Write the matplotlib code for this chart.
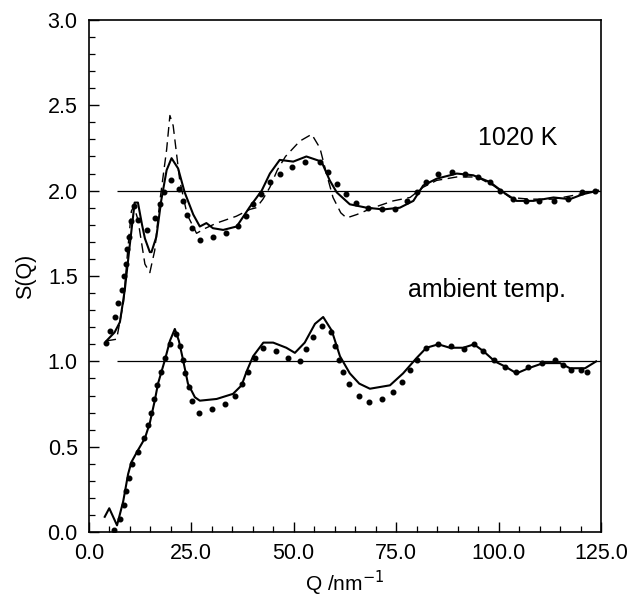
import numpy as np
import matplotlib
matplotlib.use("Agg")
import matplotlib.pyplot as plt
from matplotlib.ticker import MultipleLocator, FormatStrFormatter

plt.rcParams['font.family'] = ['Liberation Sans', 'DejaVu Sans']

# 1020 K data
q_hot_solid = [4.3, 6.3, 7.6, 8.8, 10.0, 11.2, 12.0, 13.0, 13.7, 14.9, 15.3, 16.5, 17.7, 19.0, 20.2,
               21.8, 23.4, 25.5, 27.1, 28.7, 30.3, 32.8, 36.1, 39.3, 42.2, 44.2, 46.6, 49.9, 53.1,
               56.8, 58.8, 60.5, 63.7, 67.8, 71.9, 75.9, 79.2, 81.6, 84.9, 89.8, 93.8, 97.9, 101.2,
               104.4, 108.5, 113.4, 117.4, 120.7, 124.3]
s_hot_solid = [1.12, 1.17, 1.23, 1.42, 1.68, 1.93, 1.93, 1.80, 1.72, 1.64, 1.64, 1.73, 1.945, 2.12, 2.19,
               2.13, 1.99, 1.86, 1.79, 1.81, 1.78, 1.77, 1.79, 1.905, 2.0, 2.10, 2.18, 2.17, 2.20,
               2.17, 2.06, 1.99, 1.92, 1.90, 1.89, 1.90, 1.94, 2.03, 2.07, 2.10, 2.09, 2.05, 1.99,
               1.94, 1.94, 1.96, 1.95, 1.98, 2.0]

q_hot_dash = [4.3, 6.8, 8.5, 9.5, 10.4, 11.0, 12.0, 13.7, 14.9, 16.1, 17.3, 19.0, 19.8, 20.6, 22.2,
              24.0, 26.3, 28.5, 31.2, 36.0, 39.3, 40.9, 42.5, 44.2, 46.0, 48.0, 51.5, 54.4, 56.4,
              58.0, 59.6, 61.5, 62.9, 65.4, 69.4, 74.3, 78.4, 81.6, 84.9, 89.8, 94.7, 98.7, 102.8,
              107.7, 113.4, 120.0, 124.3]
s_hot_dash = [1.12, 1.13, 1.35, 1.65, 1.88, 1.91, 1.83, 1.57, 1.52, 1.65, 1.93, 2.24, 2.44, 2.38, 2.06,
              1.86, 1.75, 1.78, 1.81, 1.85, 1.89, 1.90, 1.95, 2.02, 2.12, 2.20, 2.29, 2.33, 2.25,
              2.10, 1.96, 1.87, 1.84, 1.86, 1.90, 1.94, 1.96, 2.02, 2.06, 2.08, 2.08, 2.03, 1.96,
              1.95, 1.95, 1.98, 2.0]

q_hot_dots = [4.3, 5.1, 6.3, 7.2, 8.1, 8.6, 9.0, 9.4, 9.8, 10.3, 11.0, 11.9, 14.1, 16.1, 17.5, 18.4,
              20.0, 22.0, 23.0, 24.0, 25.1, 27.1, 30.3, 33.4, 36.5, 38.3, 40.1, 42.0, 44.2, 46.6,
              49.7, 52.7, 56.4, 58.4, 60.5, 62.7, 65.2, 68.2, 71.5, 74.7, 77.6, 80.0, 82.3, 85.3,
              88.6, 91.8, 95.0, 97.9, 100.3, 103.6, 106.7, 109.9, 113.6, 117.0, 120.3, 123.5]
s_hot_dots = [1.11, 1.18, 1.26, 1.34, 1.42, 1.50, 1.57, 1.66, 1.73, 1.82, 1.91, 1.83, 1.77, 1.84, 1.92, 1.99,
              2.06, 2.01, 1.94, 1.86, 1.78, 1.71, 1.73, 1.75, 1.79, 1.85, 1.92, 1.98, 2.05, 2.10,
              2.14, 2.17, 2.17, 2.11, 2.04, 1.98, 1.93, 1.90, 1.89, 1.89, 1.94, 1.99, 2.05, 2.10,
              2.11, 2.10, 2.08, 2.05, 2.0, 1.95, 1.94, 1.94, 1.94, 1.95, 1.99, 2.0]

# ambient temperature data
q_amb_solid = [3.9, 5.0, 6.9, 8.4, 9.6, 10.4, 12.0, 13.7, 14.9, 16.1, 16.9, 18.6, 19.8, 21.0, 22.0,
               23.0, 24.2, 25.9, 27.1, 31.2, 35.2, 37.3, 38.5, 40.1, 42.6, 45.0, 48.2, 50.3, 52.7,
               55.2, 57.2, 59.3, 61.3, 63.7, 66.0, 68.6, 73.5, 76.7, 80.0, 82.4, 85.3, 88.1, 91.4,
               94.0, 96.3, 99.1, 101.6, 104.4, 107.3, 110.9, 115.0, 117.4, 121.1, 123.8]
s_amb_solid = [0.09, 0.14, 0.04, 0.18, 0.34, 0.41, 0.48, 0.55, 0.64, 0.77, 0.87, 1.01, 1.12, 1.19, 1.12,
               1.01, 0.87, 0.79, 0.77, 0.78, 0.81, 0.86, 0.94, 1.03, 1.11, 1.11, 1.08, 1.05, 1.11,
               1.22, 1.26, 1.18, 1.03, 0.93, 0.87, 0.84, 0.86, 0.93, 1.02, 1.08, 1.10, 1.08, 1.08,
               1.10, 1.06, 1.0, 0.97, 0.93, 0.96, 0.99, 0.99, 0.96, 0.96, 1.0]

q_amb_dots = [6.1, 7.6, 8.5, 9.2, 9.8, 10.5, 11.9, 13.4, 14.5, 15.3, 16.0, 16.7, 17.7, 18.7, 19.9, 21.2,
              22.2, 22.9, 23.4, 24.4, 25.1, 26.9, 30.0, 33.2, 35.6, 37.5, 38.9, 40.5, 42.6, 45.8,
              48.7, 51.6, 53.1, 54.8, 56.8, 59.1, 60.2, 61.1, 62.1, 63.6, 66.0, 68.4, 71.6, 74.3,
              76.5, 78.4, 80.2, 82.3, 85.1, 88.4, 91.6, 94.0, 96.3, 98.9, 101.6, 104.2, 107.1,
              110.5, 113.7, 115.6, 117.7, 120.0, 121.5]
s_amb_dots = [0.01, 0.08, 0.16, 0.24, 0.32, 0.40, 0.47, 0.55, 0.63, 0.70, 0.78, 0.86, 0.94, 1.02, 1.10, 1.16,
              1.09, 1.01, 0.93, 0.85, 0.77, 0.70, 0.72, 0.75, 0.80, 0.87, 0.94, 1.02, 1.08, 1.06,
              1.02, 1.0, 1.07, 1.14, 1.21, 1.17, 1.09, 1.01, 0.94, 0.87, 0.80, 0.76, 0.78, 0.82,
              0.88, 0.95, 1.01, 1.08, 1.10, 1.09, 1.07, 1.10, 1.06, 1.01, 0.97, 0.94, 0.97,
              0.99, 1.01, 0.98, 0.95, 0.95, 0.94]

ref_levels = [1.0, 2.0]

fig = plt.figure(figsize=(6.34, 6.02), dpi=100)
ax = fig.add_axes([0.140, 0.116, 0.808, 0.851])

ax.hlines(ref_levels, 7, 125, color='black', lw=0.9)

ax.plot(q_hot_solid, s_hot_solid, color='black', lw=1.5)
ax.plot(q_hot_dash, s_hot_dash, color='black', lw=1.0, dashes=(7, 4))
ax.plot(q_hot_dots, s_hot_dots, ls='none', marker='o', ms=3.3, color='black')
ax.plot(q_amb_solid, s_amb_solid, color='black', lw=1.5)
ax.plot(q_amb_dots, s_amb_dots, ls='none', marker='o', ms=3.3, color='black')

ax.text(95.0, 2.31, '1020 K', fontsize=18, va='center', ha='left')
ax.text(77.9, 1.42, 'ambient temp.', fontsize=18, va='center', ha='left')

ax.set_xlim(0, 125)
ax.set_ylim(0, 3.0)
ax.xaxis.set_major_locator(MultipleLocator(25))
ax.xaxis.set_minor_locator(MultipleLocator(5))
ax.yaxis.set_major_locator(MultipleLocator(0.5))
ax.yaxis.set_minor_locator(MultipleLocator(0.1))
ax.xaxis.set_major_formatter(FormatStrFormatter('%.1f'))
ax.yaxis.set_major_formatter(FormatStrFormatter('%.1f'))
ax.tick_params(which='both', direction='in', top=False, right=False, labelsize=15.5)
ax.tick_params(which='major', length=7, width=1.0, pad=8)
ax.tick_params(which='minor', length=4, width=0.9)
for sp in ax.spines.values():
    sp.set_linewidth(1.2)

ax.set_xlabel('Q /nm$^{-1}$', fontsize=15, labelpad=3)
ax.set_ylabel('S(Q)', fontsize=15.5, labelpad=8)

fig.savefig('out.png', dpi=100)
